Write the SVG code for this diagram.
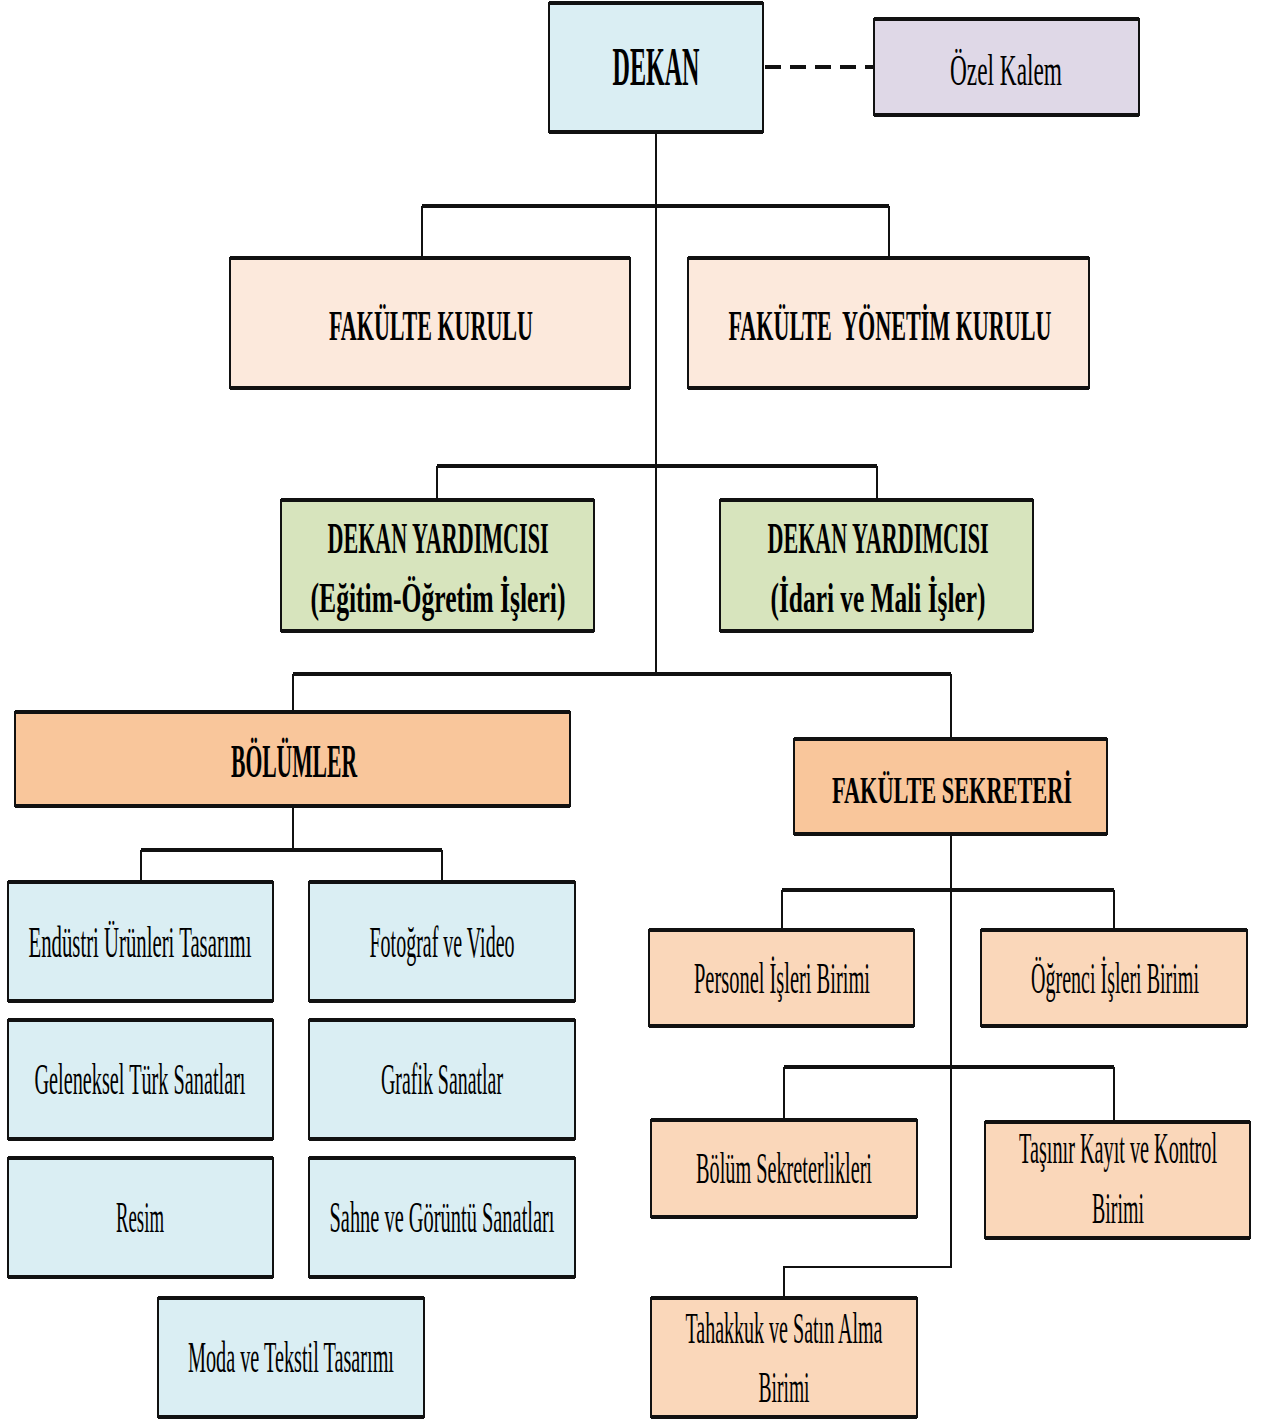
<svg xmlns="http://www.w3.org/2000/svg" width="1261" height="1419" viewBox="0 0 1261 1419">
<style>
.box{stroke:#111;stroke-width:2}
.tb{stroke:#111;stroke-width:4;fill:none}
.conn{stroke:#111;stroke-width:2;fill:none}
.bar{stroke:#111;stroke-width:4;fill:none}
.dash{stroke:#111;stroke-width:4;fill:none;stroke-dasharray:16 9}
text{font-family:"Liberation Serif","DejaVu Serif",serif;fill:#000;text-anchor:middle}
.b{font-weight:bold}
.blue{fill:#DAEEF3}
.lilac{fill:#DFD8E7}
.pink{fill:#FCE9DC}
.green{fill:#D7E4BD}
.orange{fill:#F9C69B}
.peach{fill:#FAD7BA}
</style>
<rect width="1261" height="1419" fill="#fff"/>
<g id="connectors">
  <path class="dash" d="M765 67 H874"/>
  <path class="conn" d="M656 132 V674"/>
  <path class="bar" d="M422 206 H889"/>
  <path class="conn" d="M422 206 V258 M889 206 V258"/>
  <path class="bar" d="M437 466 H877"/>
  <path class="conn" d="M437 466 V500 M877 466 V500"/>
  <path class="bar" d="M293 674 H951"/>
  <path class="conn" d="M293 674 V712 M951 674 V739"/>
  <path class="conn" d="M293 806 V850"/>
  <path class="bar" d="M141 850 H442"/>
  <path class="conn" d="M141 850 V882 M442 850 V882"/>
  <path class="conn" d="M951 834 V1267 H784 V1298"/>
  <path class="bar" d="M782 890 H1114"/>
  <path class="conn" d="M782 890 V930 M1114 890 V930"/>
  <path class="bar" d="M784 1067 H1114"/>
  <path class="conn" d="M784 1067 V1120 M1114 1067 V1122"/>
</g>
<g id="dekan">
  <rect class="box blue" x="549" y="3" width="214" height="129"/>
  <path class="tb" d="M549 3 H763 M549 132 H763"/>
  <text class="b" x="656" y="85" font-size="54" textLength="87" lengthAdjust="spacingAndGlyphs">DEKAN</text>
</g>
<g id="ozel-kalem">
  <rect class="box lilac" x="874" y="19" width="265" height="96"/>
  <path class="tb" d="M874 19 H1139 M874 115 H1139"/>
  <text x="1006" y="85" font-size="44" textLength="112" lengthAdjust="spacingAndGlyphs">Özel Kalem</text>
</g>
<g id="fakulte-kurulu">
  <rect class="box pink" x="230" y="258" width="400" height="130"/>
  <path class="tb" d="M230 258 H630 M230 388 H630"/>
  <text class="b" x="431" y="340" font-size="42" textLength="204" lengthAdjust="spacingAndGlyphs">FAKÜLTE KURULU</text>
</g>
<g id="fakulte-yonetim-kurulu">
  <rect class="box pink" x="688" y="258" width="401" height="130"/>
  <path class="tb" d="M688 258 H1089 M688 388 H1089"/>
  <text class="b" x="890" y="340" font-size="42" textLength="323" lengthAdjust="spacingAndGlyphs" xml:space="preserve">FAKÜLTE  YÖNETİM KURULU</text>
</g>
<g id="dekan-yrd-egitim">
  <rect class="box green" x="281" y="500" width="313" height="131"/>
  <path class="tb" d="M281 500 H594 M281 631 H594"/>
  <text class="b" x="438" y="553" font-size="44" textLength="221" lengthAdjust="spacingAndGlyphs">DEKAN YARDIMCISI</text>
  <text class="b" x="438" y="612" font-size="42" textLength="255" lengthAdjust="spacingAndGlyphs">(Eğitim-Öğretim İşleri)</text>
</g>
<g id="dekan-yrd-idari">
  <rect class="box green" x="720" y="500" width="313" height="131"/>
  <path class="tb" d="M720 500 H1033 M720 631 H1033"/>
  <text class="b" x="878" y="553" font-size="44" textLength="221" lengthAdjust="spacingAndGlyphs">DEKAN YARDIMCISI</text>
  <text class="b" x="878" y="612" font-size="42" textLength="215" lengthAdjust="spacingAndGlyphs">(İdari ve Mali İşler)</text>
</g>
<g id="bolumler">
  <rect class="box orange" x="15" y="712" width="555" height="94"/>
  <path class="tb" d="M15 712 H570 M15 806 H570"/>
  <text class="b" x="294" y="777" font-size="47" textLength="126" lengthAdjust="spacingAndGlyphs">BÖLÜMLER</text>
</g>
<g id="fakulte-sekreteri">
  <rect class="box orange" x="794" y="739" width="313" height="95"/>
  <path class="tb" d="M794 739 H1107 M794 834 H1107"/>
  <text class="b" x="952" y="803" font-size="37" textLength="240" lengthAdjust="spacingAndGlyphs">FAKÜLTE SEKRETERİ</text>
</g>
<g id="endustri-urunleri">
  <rect class="box blue" x="8" y="882" width="265" height="119"/>
  <path class="tb" d="M8 882 H273 M8 1001 H273"/>
  <text x="140" y="957" font-size="44" textLength="223" lengthAdjust="spacingAndGlyphs">Endüstri Ürünleri Tasarımı</text>
</g>
<g id="fotograf-video">
  <rect class="box blue" x="309" y="882" width="266" height="119"/>
  <path class="tb" d="M309 882 H575 M309 1001 H575"/>
  <text x="442" y="957" font-size="44" textLength="145" lengthAdjust="spacingAndGlyphs">Fotoğraf ve Video</text>
</g>
<g id="geleneksel">
  <rect class="box blue" x="8" y="1020" width="265" height="119"/>
  <path class="tb" d="M8 1020 H273 M8 1139 H273"/>
  <text x="140" y="1094" font-size="44" textLength="211" lengthAdjust="spacingAndGlyphs">Geleneksel Türk Sanatları</text>
</g>
<g id="grafik">
  <rect class="box blue" x="309" y="1020" width="266" height="119"/>
  <path class="tb" d="M309 1020 H575 M309 1139 H575"/>
  <text x="442" y="1094" font-size="44" textLength="122" lengthAdjust="spacingAndGlyphs">Grafik Sanatlar</text>
</g>
<g id="resim">
  <rect class="box blue" x="8" y="1158" width="265" height="119"/>
  <path class="tb" d="M8 1158 H273 M8 1277 H273"/>
  <text x="140" y="1232" font-size="44" textLength="48" lengthAdjust="spacingAndGlyphs">Resim</text>
</g>
<g id="sahne">
  <rect class="box blue" x="309" y="1158" width="266" height="119"/>
  <path class="tb" d="M309 1158 H575 M309 1277 H575"/>
  <text x="442" y="1232" font-size="44" textLength="225" lengthAdjust="spacingAndGlyphs">Sahne ve Görüntü Sanatları</text>
</g>
<g id="moda">
  <rect class="box blue" x="158" y="1298" width="266" height="119"/>
  <path class="tb" d="M158 1298 H424 M158 1417 H424"/>
  <text x="291" y="1372" font-size="44" textLength="206" lengthAdjust="spacingAndGlyphs">Moda ve Tekstil Tasarımı</text>
</g>
<g id="personel">
  <rect class="box peach" x="649" y="930" width="265" height="96"/>
  <path class="tb" d="M649 930 H914 M649 1026 H914"/>
  <text x="782" y="993" font-size="44" textLength="176" lengthAdjust="spacingAndGlyphs">Personel İşleri Birimi</text>
</g>
<g id="ogrenci">
  <rect class="box peach" x="981" y="930" width="266" height="96"/>
  <path class="tb" d="M981 930 H1247 M981 1026 H1247"/>
  <text x="1115" y="993" font-size="44" textLength="168" lengthAdjust="spacingAndGlyphs">Öğrenci İşleri Birimi</text>
</g>
<g id="bolum-sekreterlikleri">
  <rect class="box peach" x="651" y="1120" width="266" height="97"/>
  <path class="tb" d="M651 1120 H917 M651 1217 H917"/>
  <text x="784" y="1183" font-size="44" textLength="176" lengthAdjust="spacingAndGlyphs">Bölüm Sekreterlikleri</text>
</g>
<g id="tasinir">
  <rect class="box peach" x="985" y="1122" width="265" height="116"/>
  <path class="tb" d="M985 1122 H1250 M985 1238 H1250"/>
  <text x="1118" y="1163" font-size="44" textLength="198" lengthAdjust="spacingAndGlyphs">Taşınır Kayıt ve Kontrol</text>
  <text x="1118" y="1223" font-size="44" textLength="52" lengthAdjust="spacingAndGlyphs">Birimi</text>
</g>
<g id="tahakkuk">
  <rect class="box peach" x="651" y="1298" width="266" height="119"/>
  <path class="tb" d="M651 1298 H917 M651 1417 H917"/>
  <text x="784" y="1343" font-size="44" textLength="197" lengthAdjust="spacingAndGlyphs">Tahakkuk ve Satın Alma</text>
  <text x="784" y="1402" font-size="44" textLength="51" lengthAdjust="spacingAndGlyphs">Birimi</text>
</g>
</svg>
